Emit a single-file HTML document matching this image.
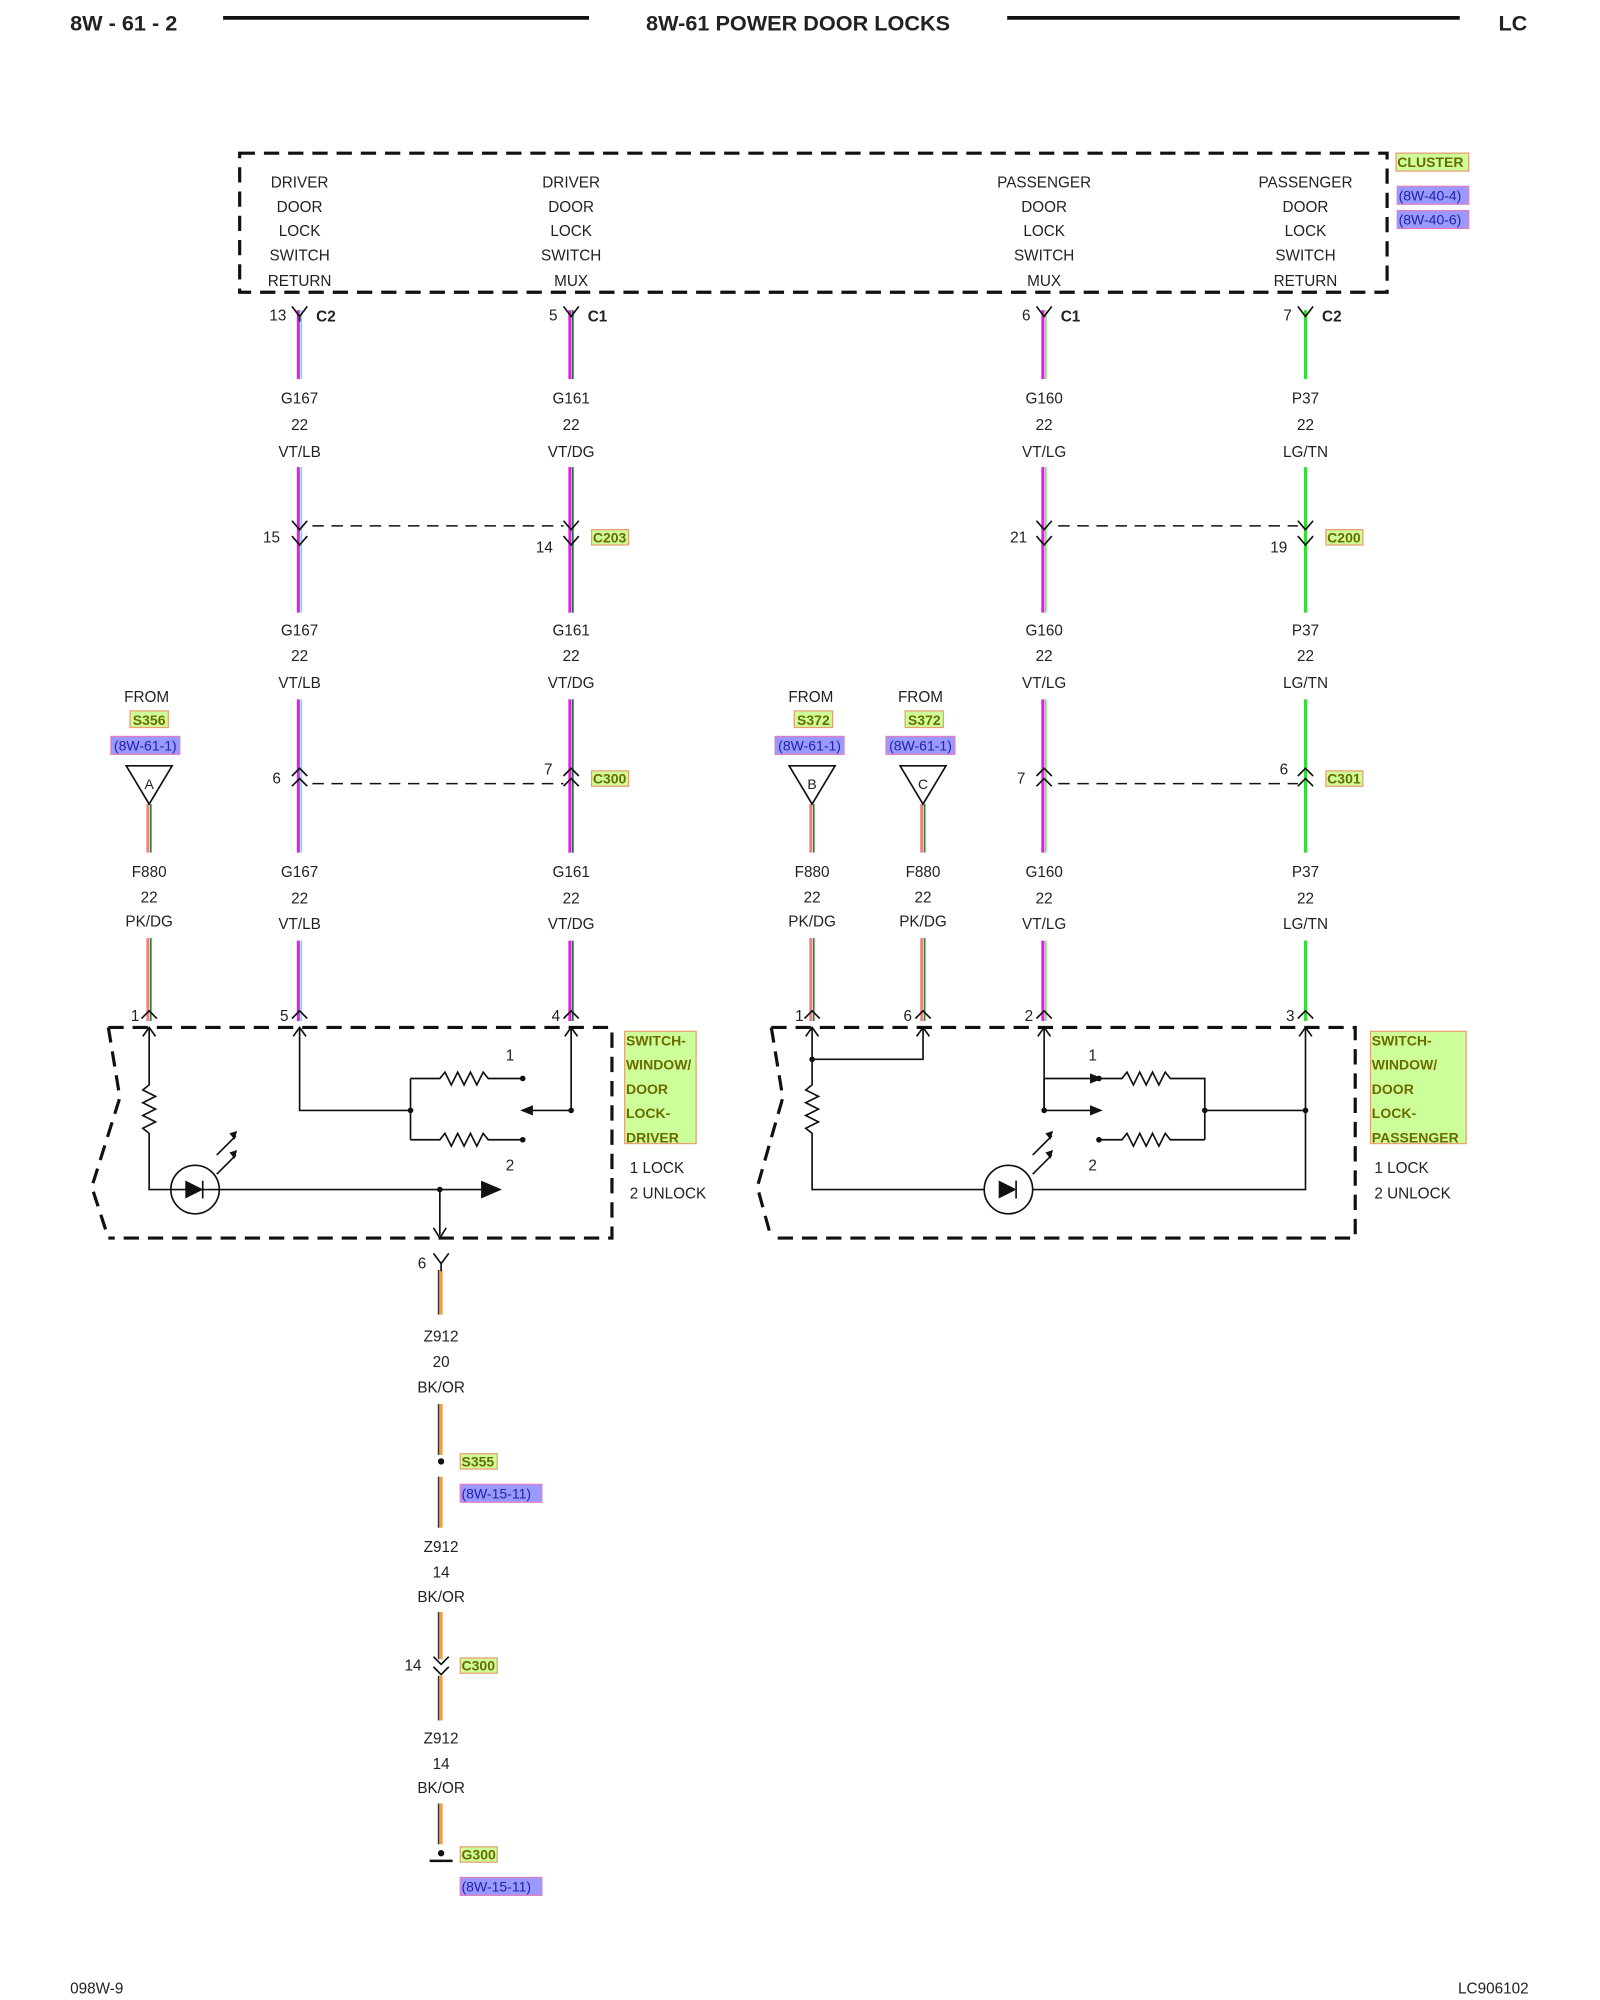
<!DOCTYPE html>
<html><head><meta charset="utf-8"><style>
html,body{margin:0;padding:0;background:#fff;}
svg{display:block;}
text{font-family:"Liberation Sans",Arial,sans-serif;font-size:12px;fill:#222;}
.c{text-anchor:middle;}
.b{font-weight:bold;}
.d{fill:none;stroke:#111;stroke-width:2.5;stroke-dasharray:12 7;}
.l{fill:none;stroke:#111;stroke-width:1.3;}
.y{fill:#6b6b00;font-weight:bold;font-size:11px;}
.p{fill:#2222aa;font-size:11px;}
</style></head><body>
<svg width="1600" height="2000" viewBox="0 0 1255 1567" preserveAspectRatio="none" xmlns="http://www.w3.org/2000/svg">
<!-- header -->
<text x="55" y="24" class="b" style="font-size:17px">8W - 61 - 2</text>
<line x1="175" y1="14" x2="462" y2="14" stroke="#111" stroke-width="3"/>
<text x="626" y="24" class="b c" style="font-size:17px">8W-61 POWER DOOR LOCKS</text>
<line x1="790" y1="14" x2="1145" y2="14" stroke="#111" stroke-width="3"/>
<text x="1198" y="24" class="b" style="font-size:17px;text-anchor:end">LC</text>

<!-- cluster -->
<rect x="188" y="120" width="900" height="109" class="d"/>
<g class="c">
<text x="235" y="147" class="c">DRIVER</text><text x="235" y="166" class="c">DOOR</text><text x="235" y="185" class="c">LOCK</text><text x="235" y="204" class="c">SWITCH</text><text x="235" y="224" class="c">RETURN</text>
<text x="448" y="147" class="c">DRIVER</text><text x="448" y="166" class="c">DOOR</text><text x="448" y="185" class="c">LOCK</text><text x="448" y="204" class="c">SWITCH</text><text x="448" y="224" class="c">MUX</text>
<text x="819" y="147" class="c">PASSENGER</text><text x="819" y="166" class="c">DOOR</text><text x="819" y="185" class="c">LOCK</text><text x="819" y="204" class="c">SWITCH</text><text x="819" y="224" class="c">MUX</text>
<text x="1024" y="147" class="c">PASSENGER</text><text x="1024" y="166" class="c">DOOR</text><text x="1024" y="185" class="c">LOCK</text><text x="1024" y="204" class="c">SWITCH</text><text x="1024" y="224" class="c">RETURN</text>
</g>
<rect x="1095" y="120" width="57" height="14" fill="#ccff99" stroke="#e8a070"/><text x="1096" y="131" class="y">CLUSTER</text>
<rect x="1096" y="146" width="56" height="14" fill="#9999ff" stroke="#e080c0"/><text x="1097" y="157" class="p">(8W-40-4)</text>
<rect x="1096" y="165" width="56" height="14" fill="#9999ff" stroke="#e080c0"/><text x="1097" y="176" class="p">(8W-40-6)</text>

<!-- wires: colors -->
<g stroke-width="2.4">
<g stroke="#e020e0"><line x1="234" y1="243" x2="234" y2="297"/><line x1="234" y1="366" x2="234" y2="480"/><line x1="234" y1="548" x2="234" y2="668"/><line x1="234" y1="737" x2="234" y2="800"/></g>
<g stroke="#80d0ff" stroke-width="1.4"><line x1="236.3" y1="243" x2="236.3" y2="297"/><line x1="236.3" y1="366" x2="236.3" y2="480"/><line x1="236.3" y1="548" x2="236.3" y2="668"/><line x1="236.3" y1="737" x2="236.3" y2="800"/></g>
<g stroke="#e020e0"><line x1="447" y1="243" x2="447" y2="297"/><line x1="447" y1="366" x2="447" y2="480"/><line x1="447" y1="548" x2="447" y2="668"/><line x1="447" y1="737" x2="447" y2="800"/></g>
<g stroke="#207040" stroke-width="1.4"><line x1="449.3" y1="243" x2="449.3" y2="297"/><line x1="449.3" y1="366" x2="449.3" y2="480"/><line x1="449.3" y1="548" x2="449.3" y2="668"/><line x1="449.3" y1="737" x2="449.3" y2="800"/></g>
<g stroke="#e020e0"><line x1="818" y1="243" x2="818" y2="297"/><line x1="818" y1="366" x2="818" y2="480"/><line x1="818" y1="548" x2="818" y2="668"/><line x1="818" y1="737" x2="818" y2="800"/></g>
<g stroke="#80e080" stroke-width="1.4"><line x1="820.3" y1="243" x2="820.3" y2="297"/><line x1="820.3" y1="366" x2="820.3" y2="480"/><line x1="820.3" y1="548" x2="820.3" y2="668"/><line x1="820.3" y1="737" x2="820.3" y2="800"/></g>
<g stroke="#30e030"><line x1="1024" y1="243" x2="1024" y2="297"/><line x1="1024" y1="366" x2="1024" y2="480"/><line x1="1024" y1="548" x2="1024" y2="668"/><line x1="1024" y1="737" x2="1024" y2="800"/></g>
<g stroke="#f08080"><line x1="116" y1="630" x2="116" y2="668"/><line x1="116" y1="735" x2="116" y2="800"/><line x1="636" y1="630" x2="636" y2="668"/><line x1="636" y1="735" x2="636" y2="800"/><line x1="723" y1="630" x2="723" y2="668"/><line x1="723" y1="735" x2="723" y2="800"/></g>
<g stroke="#308040" stroke-width="1.3"><line x1="118.3" y1="630" x2="118.3" y2="668"/><line x1="118.3" y1="735" x2="118.3" y2="800"/><line x1="638.3" y1="630" x2="638.3" y2="668"/><line x1="638.3" y1="735" x2="638.3" y2="800"/><line x1="725.3" y1="630" x2="725.3" y2="668"/><line x1="725.3" y1="735" x2="725.3" y2="800"/></g>
<g stroke="#f0a040"><line x1="346" y1="995" x2="346" y2="1030"/><line x1="346" y1="1100" x2="346" y2="1140"/><line x1="346" y1="1157" x2="346" y2="1197"/><line x1="346" y1="1263" x2="346" y2="1300"/><line x1="346" y1="1313" x2="346" y2="1348"/><line x1="346" y1="1413" x2="346" y2="1445"/></g>
<g stroke="#333" stroke-width="1.2"><line x1="344" y1="995" x2="344" y2="1030"/><line x1="344" y1="1100" x2="344" y2="1140"/><line x1="344" y1="1157" x2="344" y2="1197"/><line x1="344" y1="1263" x2="344" y2="1300"/><line x1="344" y1="1313" x2="344" y2="1348"/><line x1="344" y1="1413" x2="344" y2="1445"/></g>
</g>

<g class="l">
<path d="M229 240 L235 248 L241 240 M235 248 V252"/>
<path d="M442 240 L448 248 L454 240"/>
<path d="M813 240 L819 248 L825 240"/>
<path d="M1018 240 L1024 248 L1030 240"/>
<path d="M229 408 L235 415 L241 408 M229 420 L235 427 L241 420"/>
<path d="M442 408 L448 415 L454 408 M442 420 L448 427 L454 420"/>
<path d="M813 408 L819 415 L825 408 M813 420 L819 427 L825 420"/>
<path d="M1018 408 L1024 415 L1030 408 M1018 420 L1024 427 L1030 420"/>
<path d="M229 608 L235 602 L241 608 M229 616 L235 610 L241 616"/>
<path d="M442 608 L448 602 L454 608 M442 616 L448 610 L454 616"/>
<path d="M813 608 L819 602 L825 608 M813 616 L819 610 L825 616"/>
<path d="M1018 608 L1024 602 L1030 608 M1018 616 L1024 610 L1030 616"/>
<path d="M111 798 L117 792 L123 798 M229 798 L235 792 L241 798 M442 798 L448 792 L454 798"/>
<path d="M631 798 L637 792 L643 798 M718 798 L724 792 L730 798 M813 798 L819 792 L825 798 M1018 798 L1024 792 L1030 798"/>
<path d="M340 982 L346 990 L352 982 M346 990 V996"/>
<path d="M340 1298 L346 1304 L352 1298 M340 1306 L346 1312 L352 1306"/>
</g>
<path d="M245 412 H442 M830 412 H1018 M245 614 H442 M830 614 H1018" stroke="#111" stroke-width="1.2" stroke-dasharray="9 6" fill="none"/>

<text x="218" y="251" class="c">13</text><text x="248" y="252" class="b">C2</text>
<text x="434" y="251" class="c">5</text><text x="461" y="252" class="b">C1</text>
<text x="805" y="251" class="c">6</text><text x="832" y="252" class="b">C1</text>
<text x="1010" y="251" class="c">7</text><text x="1037" y="252" class="b">C2</text>
<text x="213" y="425" class="c">15</text><text x="427" y="433" class="c">14</text>
<text x="799" y="425" class="c">21</text><text x="1003" y="433" class="c">19</text>
<rect x="464" y="415" width="29" height="12" fill="#ccff99" stroke="#e8a070"/><text x="465" y="425" class="y">C203</text>
<rect x="1040" y="415" width="29" height="12" fill="#ccff99" stroke="#e8a070"/><text x="1041" y="425" class="y">C200</text>
<text x="217" y="614" class="c">6</text><text x="430" y="607" class="c">7</text>
<text x="801" y="614" class="c">7</text><text x="1007" y="607" class="c">6</text>
<rect x="464" y="604" width="29" height="12" fill="#ccff99" stroke="#e8a070"/><text x="465" y="614" class="y">C300</text>
<rect x="1040" y="604" width="29" height="12" fill="#ccff99" stroke="#e8a070"/><text x="1041" y="614" class="y">C301</text>

<g>
<text x="235" y="316" class="c">G167</text><text x="235" y="337" class="c">22</text><text x="235" y="358" class="c">VT/LB</text>
<text x="448" y="316" class="c">G161</text><text x="448" y="337" class="c">22</text><text x="448" y="358" class="c">VT/DG</text>
<text x="819" y="316" class="c">G160</text><text x="819" y="337" class="c">22</text><text x="819" y="358" class="c">VT/LG</text>
<text x="1024" y="316" class="c">P37</text><text x="1024" y="337" class="c">22</text><text x="1024" y="358" class="c">LG/TN</text>
<text x="235" y="498" class="c">G167</text><text x="235" y="518" class="c">22</text><text x="235" y="539" class="c">VT/LB</text>
<text x="448" y="498" class="c">G161</text><text x="448" y="518" class="c">22</text><text x="448" y="539" class="c">VT/DG</text>
<text x="819" y="498" class="c">G160</text><text x="819" y="518" class="c">22</text><text x="819" y="539" class="c">VT/LG</text>
<text x="1024" y="498" class="c">P37</text><text x="1024" y="518" class="c">22</text><text x="1024" y="539" class="c">LG/TN</text>
<text x="235" y="687" class="c">G167</text><text x="235" y="708" class="c">22</text><text x="235" y="728" class="c">VT/LB</text>
<text x="448" y="687" class="c">G161</text><text x="448" y="708" class="c">22</text><text x="448" y="728" class="c">VT/DG</text>
<text x="819" y="687" class="c">G160</text><text x="819" y="708" class="c">22</text><text x="819" y="728" class="c">VT/LG</text>
<text x="1024" y="687" class="c">P37</text><text x="1024" y="708" class="c">22</text><text x="1024" y="728" class="c">LG/TN</text>
<text x="117" y="687" class="c">F880</text><text x="117" y="707" class="c">22</text><text x="117" y="726" class="c">PK/DG</text>
<text x="637" y="687" class="c">F880</text><text x="637" y="707" class="c">22</text><text x="637" y="726" class="c">PK/DG</text>
<text x="724" y="687" class="c">F880</text><text x="724" y="707" class="c">22</text><text x="724" y="726" class="c">PK/DG</text>
</g>

<text x="115" y="550" class="c">FROM</text>
<rect x="102" y="557" width="30" height="13" fill="#ccff99" stroke="#e8a070"/><text x="117" y="568" class="y c">S356</text>
<rect x="87" y="577" width="54" height="14" fill="#9999ff" stroke="#e080c0"/><text x="114" y="588" class="p c">(8W-61-1)</text>
<path d="M99 600 H135 L117 630 Z" class="l"/><text x="117" y="618" class="c" style="font-size:11px">A</text>
<text x="636" y="550" class="c">FROM</text>
<rect x="623" y="557" width="30" height="13" fill="#ccff99" stroke="#e8a070"/><text x="638" y="568" class="y c">S372</text>
<rect x="608" y="577" width="54" height="14" fill="#9999ff" stroke="#e080c0"/><text x="635" y="588" class="p c">(8W-61-1)</text>
<path d="M619 600 H655 L637 630 Z" class="l"/><text x="637" y="618" class="c" style="font-size:11px">B</text>
<text x="722" y="550" class="c">FROM</text>
<rect x="710" y="557" width="30" height="13" fill="#ccff99" stroke="#e8a070"/><text x="725" y="568" class="y c">S372</text>
<rect x="695" y="577" width="54" height="14" fill="#9999ff" stroke="#e080c0"/><text x="722" y="588" class="p c">(8W-61-1)</text>
<path d="M706 600 H742 L724 630 Z" class="l"/><text x="724" y="618" class="c" style="font-size:11px">C</text>

<text x="106" y="800" class="c">1</text><text x="223" y="800" class="c">5</text><text x="436" y="800" class="c">4</text>
<text x="627" y="800" class="c">1</text><text x="712" y="800" class="c">6</text><text x="807" y="800" class="c">2</text><text x="1012" y="800" class="c">3</text>

<path d="M85 805 H480 V970 H85 M85 805 L94 860 L72 930 L85 970" class="d"/>
<g class="l">
<path d="M117 805 V850 l-5 4 10 5 -10 5 10 5 -10 5 10 5 -10 5 5 4 V932 H345"/>
<path d="M345 932 H378"/><path d="M378 926 L392 932 L378 938 Z" fill="#111"/>
<path d="M345 932 V968"/><path d="M340 962 L345 970 L350 962"/>
<path d="M112 812 L117 805 L122 812"/>
<circle cx="153" cy="932" r="19"/>
<path d="M146 926 V938 L158 932 Z" fill="#111"/><path d="M159 925 V939"/>
<path d="M170 905 L185 890 M170 920 L185 905"/>
<path d="M235 805 V870 H322"/><path d="M230 812 L235 805 L240 812"/>
<path d="M322 845 V893 M322 845 H345 l4 -5 5 10 5 -10 5 10 5 -10 5 10 5 -10 4 5 H410 M322 893 H345 l4 -5 5 10 5 -10 5 10 5 -10 5 10 5 -10 4 5 H410"/>
<path d="M448 805 V870 H418"/><path d="M443 812 L448 805 L453 812"/>
</g>
<path d="M180 888 L186 886 L184 893 Z M180 903 L186 901 L184 908 Z" fill="#111"/>
<path d="M418 866 L408 870 L418 874 Z" fill="#111"/>
<circle cx="322" cy="870" r="2.2" fill="#111"/><circle cx="410" cy="845" r="2.2" fill="#111"/><circle cx="410" cy="893" r="2.2" fill="#111"/><circle cx="448" cy="870" r="2.2" fill="#111"/><circle cx="345" cy="932" r="2.2" fill="#111"/>
<text x="400" y="831" class="c">1</text><text x="400" y="917" class="c">2</text>
<rect x="490" y="808" width="56" height="88" fill="#ccff99" stroke="#e8a070"/>
<g><text x="491" y="819" class="y">SWITCH-</text><text x="491" y="838" class="y">WINDOW/</text><text x="491" y="857" class="y">DOOR</text><text x="491" y="876" class="y">LOCK-</text><text x="491" y="895" class="y">DRIVER</text></g>
<text x="494" y="919">1 LOCK</text><text x="494" y="939">2 UNLOCK</text>

<path d="M605 805 H1063 V970 H605 M605 805 L614 860 L594 930 L605 970" class="d"/>
<g class="l">
<path d="M637 805 V850 l-5 4 10 5 -10 5 10 5 -10 5 10 5 -10 5 5 4 V932 H772 M810 932 H1024 V805"/>
<path d="M637 830 H724 V805"/>
<path d="M632 812 L637 805 L642 812 M719 812 L724 805 L729 812 M814 812 L819 805 L824 812 M1019 812 L1024 805 L1029 812"/>
<circle cx="791" cy="932" r="19"/>
<path d="M784 926 V938 L796 932 Z" fill="#111"/><path d="M797 925 V939"/>
<path d="M810 905 L825 890 M810 920 L825 905"/>
<path d="M819 805 V870 H855"/>
<path d="M819 845 H855 M819 845 V870"/>
<path d="M862 845 H880 l4 -5 5 10 5 -10 5 10 5 -10 5 10 5 -10 4 5 H945 V893 M862 893 H880 l4 -5 5 10 5 -10 5 10 5 -10 5 10 5 -10 4 5 H945 M945 870 H1024"/>
</g>
<path d="M820 888 L826 886 L824 893 Z M820 903 L826 901 L824 908 Z" fill="#111"/>
<path d="M855 841 L865 845 L855 849 Z M855 866 L865 870 L855 874 Z" fill="#111"/>
<circle cx="637" cy="830" r="2.2" fill="#111"/><circle cx="819" cy="870" r="2.2" fill="#111"/><circle cx="945" cy="870" r="2.2" fill="#111"/><circle cx="1024" cy="870" r="2.2" fill="#111"/><circle cx="862" cy="845" r="2.2" fill="#111"/><circle cx="862" cy="893" r="2.2" fill="#111"/>
<text x="857" y="831" class="c">1</text><text x="857" y="917" class="c">2</text>
<rect x="1075" y="808" width="75" height="88" fill="#ccff99" stroke="#e8a070"/>
<g><text x="1076" y="819" class="y">SWITCH-</text><text x="1076" y="838" class="y">WINDOW/</text><text x="1076" y="857" class="y">DOOR</text><text x="1076" y="876" class="y">LOCK-</text><text x="1076" y="895" class="y">PASSENGER</text></g>
<text x="1078" y="919">1 LOCK</text><text x="1078" y="939">2 UNLOCK</text>

<text x="331" y="994" class="c">6</text>
<text x="346" y="1051" class="c">Z912</text><text x="346" y="1071" class="c">20</text><text x="346" y="1091" class="c">BK/OR</text>
<circle cx="346" cy="1145" r="2.5" fill="#111"/>
<rect x="361" y="1139" width="29" height="12" fill="#ccff99" stroke="#e8a070"/><text x="362" y="1149" class="y">S355</text>
<rect x="361" y="1163" width="64" height="14" fill="#9999ff" stroke="#e080c0"/><text x="362" y="1174" class="p">(8W-15-11)</text>
<text x="346" y="1216" class="c">Z912</text><text x="346" y="1236" class="c">14</text><text x="346" y="1255" class="c">BK/OR</text>
<text x="324" y="1309" class="c">14</text>
<rect x="361" y="1299" width="29" height="12" fill="#ccff99" stroke="#e8a070"/><text x="362" y="1309" class="y">C300</text>
<text x="346" y="1366" class="c">Z912</text><text x="346" y="1386" class="c">14</text><text x="346" y="1405" class="c">BK/OR</text>
<circle cx="346" cy="1452" r="2.5" fill="#111"/>
<line x1="337" y1="1458" x2="355" y2="1458" stroke="#111" stroke-width="2"/>
<rect x="361" y="1447" width="29" height="12" fill="#ccff99" stroke="#e8a070"/><text x="362" y="1457" class="y">G300</text>
<rect x="361" y="1471" width="64" height="14" fill="#9999ff" stroke="#e080c0"/><text x="362" y="1482" class="p">(8W-15-11)</text>

<text x="55" y="1562">098W-9</text>
<text x="1199" y="1562" style="text-anchor:end">LC906102</text>
</svg>
</body></html>
